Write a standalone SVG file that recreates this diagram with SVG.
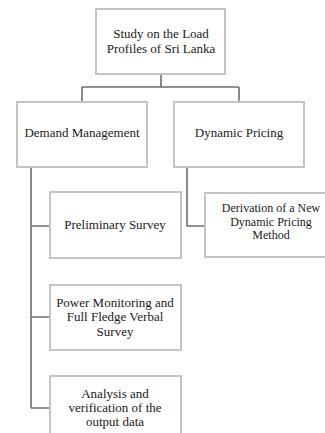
<svg xmlns="http://www.w3.org/2000/svg" width="325" height="433" viewBox="0 0 325 433">
<style>
.box{fill:#ffffff;stroke:#c4c4c4;stroke-width:2}
.t{font-family:'Liberation Serif','Times New Roman',Times,'DejaVu Serif',serif;font-size:13px;fill:#1a1a1a;text-anchor:middle}
.s{font-size:12px}
.c{fill:none;stroke:#6e6e6e;stroke-width:1.6}
</style>
<rect width="325" height="433" fill="#ffffff"/>
<g id="connectors">
<path class="c" d="M161 74V87M82 87H239M82 87V102M239 87V102"/>
<path class="c" d="M31 167V408M31 226H50M31 317H50M31 408H50"/>
<path class="c" d="M187 167V226H205"/>
</g>
<g id="root">
<rect class="box" x="96" y="9" width="129" height="65"/>
<text class="t" x="161" y="38">Study on the Load</text>
<text class="t" x="161" y="53">Profiles of Sri Lanka</text>
</g>
<g id="demand">
<rect class="box" x="17" y="102" width="130" height="65"/>
<text class="t" x="82" y="137">Demand Management</text>
</g>
<g id="dynamic">
<rect class="box" x="174" y="102" width="130" height="65"/>
<text class="t" x="239" y="137">Dynamic Pricing</text>
</g>
<g id="derivation">
<rect class="box" x="205" y="193" width="132" height="64"/>
<text class="t s" x="271" y="212">Derivation of a New</text>
<text class="t s" x="271" y="225.5">Dynamic Pricing</text>
<text class="t s" x="271" y="239">Method</text>
</g>
<g id="preliminary">
<rect class="box" x="50" y="192" width="131" height="66"/>
<text class="t" x="115" y="229">Preliminary Survey</text>
</g>
<g id="power">
<rect class="box" x="50" y="285" width="131" height="65"/>
<text class="t" x="115" y="307">Power Monitoring and</text>
<text class="t" x="115" y="321">Full Fledge Verbal</text>
<text class="t" x="115" y="336">Survey</text>
</g>
<g id="analysis">
<rect class="box" x="50" y="376" width="131" height="66"/>
<text class="t" x="115" y="398">Analysis and</text>
<text class="t" x="115" y="412">verification of the</text>
<text class="t" x="115" y="426">output data</text>
</g>
</svg>
